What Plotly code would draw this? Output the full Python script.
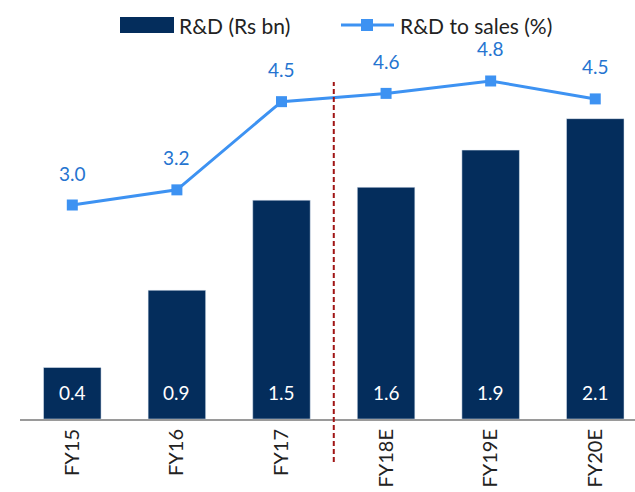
import plotly.graph_objects as go

categories = ["FY15", "FY16", "FY17", "FY18E", "FY19E", "FY20E"]
rd_bn = [0.36, 0.90, 1.53, 1.62, 1.88, 2.10]
rd_to_sales = [3.0, 3.22, 4.5, 4.62, 4.8, 4.54]
series_names = ["R&D (Rs bn)", "R&D to sales (%)"]

BAR = "#042d5c"
LINE = "#3d92f2"
LBL = "#2574d0"
FONT = "Lato, 'Open Sans', sans-serif"

L, T, B, W, H = 20, 40, 73, 635, 492
PW, PH = W - L, H - T - B


def px(x):
    return (x - L) / PW


def py(y):
    return (H - B - y) / PH


fig = go.Figure()
fig.add_trace(go.Bar(x=categories, y=rd_bn, name=series_names[0], marker_color=BAR,
                     width=0.55, yaxis="y", showlegend=False))
fig.add_trace(go.Scatter(x=categories, y=rd_to_sales, name=series_names[1],
                         mode="lines+markers", line=dict(color=LINE, width=3),
                         marker=dict(symbol="square", size=11, color=LINE), yaxis="y2",
                         showlegend=False))

anns = []
for c, v in zip(categories, rd_bn):
    anns.append(dict(x=c, y=0, xref="x", yref="y", text=f"{v:.1f}", showarrow=False,
                     yshift=27, font=dict(color="white", size=19, family=FONT)))
for c, v in zip(categories, rd_to_sales):
    anns.append(dict(x=c, y=v, xref="x", yref="y2", text=f"{v:.1f}", showarrow=False,
                     yshift=32, font=dict(color=LBL, size=19, family=FONT)))

# manual legend
anns.append(dict(x=px(177), y=py(25), xref="paper", yref="paper", xanchor="left",
                 yanchor="middle", text=series_names[0], showarrow=False,
                 font=dict(size=21, color="#222", family=FONT)))
anns.append(dict(x=px(398), y=py(25), xref="paper", yref="paper", xanchor="left",
                 yanchor="middle", text=series_names[1], showarrow=False,
                 font=dict(size=21, color="#222", family=FONT)))

shapes = [
    dict(type="line", xref="x", yref="paper", x0=2.5, x1=2.5, y0=py(462), y1=py(82),
         line=dict(color="#a01515", width=2, dash="5px,3px")),
    dict(type="rect", xref="paper", yref="paper", x0=px(120), x1=px(174), y0=py(33), y1=py(17),
         fillcolor=BAR, line=dict(width=0)),
    dict(type="line", xref="paper", yref="paper", x0=px(341), x1=px(394), y0=py(25), y1=py(25),
         line=dict(color=LINE, width=3)),
    dict(type="rect", xref="paper", yref="paper", x0=px(361), x1=px(373), y0=py(31), y1=py(19),
         fillcolor=LINE, line=dict(width=0)),
]

fig.update_layout(
    width=W, height=H,
    margin=dict(l=L, r=0, t=T, b=B),
    plot_bgcolor="white", paper_bgcolor="white",
    font=dict(family=FONT, size=18, color="#222"),
    showlegend=False,
    xaxis=dict(range=[-0.5, 5.38], tickangle=-90, showline=True, linecolor="#9a9a9a",
               linewidth=2, ticks="", showgrid=False, automargin=False,
               tickfont=dict(size=20, color="#222")),
    yaxis=dict(range=[0, 2.65], visible=False, showgrid=False, automargin=False),
    yaxis2=dict(range=[-0.106, 5.395], overlaying="y", visible=False, showgrid=False,
                automargin=False),
    annotations=anns,
    shapes=shapes,
)
fig.write_html("out.html", config={"displayModeBar": False},
               post_script="document.body.style.margin='0';")
